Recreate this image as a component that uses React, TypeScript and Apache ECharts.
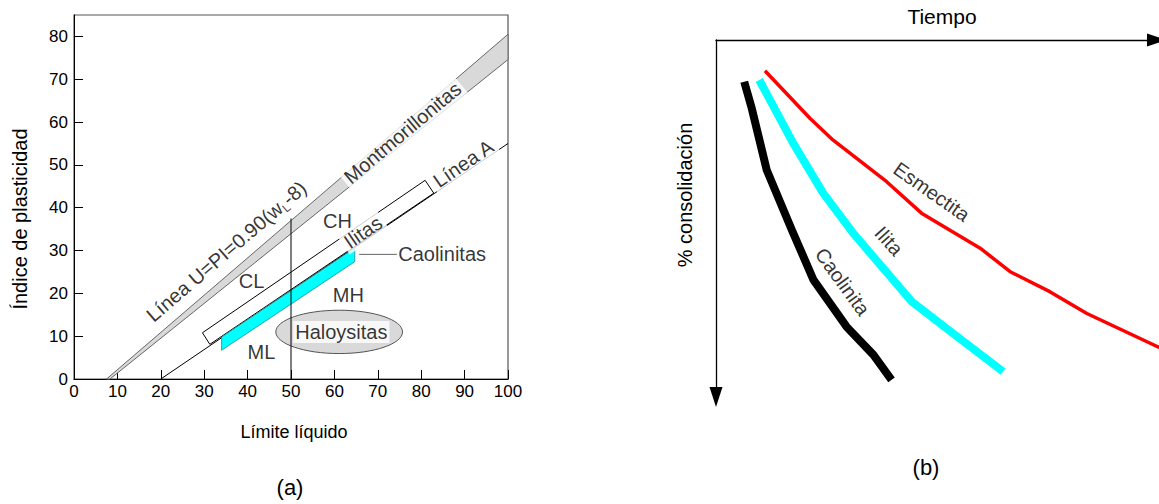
import React, { useEffect, useRef } from 'react';
import * as echarts from 'echarts';

const FONT = '"Liberation Sans", Arial, sans-serif';

// ---------- (a) Carta de plasticidad ----------
const lineA = [[20, 0], [100, 55]];
const lineUBand = [[7.5, 0], [100, 80.5], [100, 74.6], [8.3, 0]];
const ilitasBand = [[29.6, 10.8], [31.3, 8.1], [82.9, 43.4], [80.9, 46.4]];
const caolinitasBand = [[34, 6.7], [34, 9.8], [64.7, 30.6], [64.7, 27.4]];
const caolinitasLeader = [[65.7, 29.1], [74.4, 29.1]];
const liquidLimit50 = [[50, 0], [50, 37.5]];
// centre (LL, PI) and half-axes (LL, PI)
const haloysitasEllipse = [61.1, 11.0, 14.6, 5.06];

const zoneNames = ['CL', 'CH', 'ML', 'MH'];
const zoneLL = [40.9, 60.7, 43.2, 63.2];
const zonePI = [22.9, 36.9, 6.3, 19.7];

const lineLabels = ['{t|Línea U=PI=0.90(w}{s|L}{t|-8)}', 'Montmorillonitas', 'Ilitas', 'Línea A'];
const lineLabelLL = [35.1, 75.7, 66.6, 89.7];
const lineLabelPI = [29.8, 57.5, 34.3, 50.3];
const lineLabelAngle = [40.6, 40.0, 34.4, 34.3];

// ---------- (b) Consolidación ----------
const caolinita = [[6.4, 11.7], [8.1, 19.1], [11.5, 36.4], [17.2, 53.2], [22.1, 67.2], [29.6, 80.3], [35.7, 88.2], [39.8, 95.2]];
const ilita = [[9.8, 11.2], [17.5, 28.9], [24.3, 42.9], [31.1, 54.1], [44.4, 73.3], [52.7, 81.2], [65.1, 92.9]];
const esmectita = [[11.1, 8.6], [21.3, 21.9], [26.5, 28.0], [38.7, 39.7], [46.6, 48.5], [59.9, 58.3], [66.7, 64.9], [75.7, 70.5], [84.1, 76.6], [101.0, 86.4]];

const curveNames = ['Caolinita', 'Ilita', 'Esmectita'];
const curveLabelX = [28.7, 39.2, 48.9];
const curveLabelY = [67.7, 56.3, 42.5];
const curveLabelAngle = [-54, -48, -35];

function polygonSeries(verts: number[][], fill: string, stroke: string, lineWidth: number, z: number) {
  return {
    type: 'custom',
    xAxisIndex: 0,
    yAxisIndex: 0,
    silent: true,
    z,
    data: verts,
    renderItem: (params: any, api: any) => {
      if (params.dataIndex !== 0) return null;
      return {
        type: 'polygon',
        shape: { points: verts.map((v) => api.coord(v)) },
        style: { fill, stroke, lineWidth },
      };
    },
  };
}

export default function App() {
  const ref = useRef<HTMLDivElement>(null);

  useEffect(() => {
    if (!ref.current) return;
    const chart = echarts.init(ref.current, undefined, { renderer: 'svg' });

    const labelBase = { show: true, color: '#000', fontFamily: FONT, fontSize: 20 };

    const option: any = {
      animation: false,
      backgroundColor: '#fff',
      textStyle: { fontFamily: FONT },
      grid: [
        { left: 74, top: 15, width: 434, height: 364, show: true, borderColor: '#555', borderWidth: 1.2 },
        { left: 716, top: 40, width: 441, height: 357, show: false },
      ],
      xAxis: [
        {
          gridIndex: 0, type: 'value', min: 0, max: 100, interval: 10,
          axisLine: { show: true, onZero: false, lineStyle: { color: '#000', width: 1 } },
          axisTick: { show: true, inside: true, length: 9, lineStyle: { color: '#000' } },
          axisLabel: { color: '#000', fontSize: 17, margin: 4, fontFamily: FONT },
          splitLine: { show: false },
        },
        {
          gridIndex: 1, type: 'value', min: 0, max: 100, position: 'top',
          axisLine: { show: true, onZero: false, symbol: ['none', 'triangle'], symbolSize: [13, 20], lineStyle: { color: '#000', width: 1.3 } },
          axisTick: { show: false }, axisLabel: { show: false }, splitLine: { show: false },
        },
      ],
      yAxis: [
        {
          gridIndex: 0, type: 'value', min: 0, max: 85, interval: 10,
          axisLine: { show: true, onZero: false, lineStyle: { color: '#000', width: 1 } },
          axisTick: { show: true, inside: true, length: 9, lineStyle: { color: '#000' } },
          axisLabel: { color: '#000', fontSize: 17, margin: 6, fontFamily: FONT, showMaxLabel: false },
          splitLine: { show: false },
        },
        {
          gridIndex: 1, type: 'value', min: 0, max: 100, inverse: true,
          axisLine: { show: true, onZero: false, symbol: ['triangle', 'none'], symbolSize: [13, 20], lineStyle: { color: '#000', width: 1.3 } },
          axisTick: { show: false }, axisLabel: { show: false }, splitLine: { show: false },
        },
      ],
      series: [
        polygonSeries(lineUBand, '#d9d9d9', '#666', 1, 1),
        polygonSeries(ilitasBand, '#ffffff', '#000', 1, 2),
        polygonSeries(caolinitasBand, '#00ffff', '#2a8a8a', 0.8, 3),
        {
          type: 'line', xAxisIndex: 0, yAxisIndex: 0, data: lineA, showSymbol: false, silent: true, z: 2,
          lineStyle: { color: '#000', width: 1 },
        },
        {
          type: 'custom', xAxisIndex: 0, yAxisIndex: 0, silent: true, z: 4,
          data: [haloysitasEllipse],
          renderItem: (params: any, api: any) => {
            const c = api.coord([api.value(0), api.value(1)]);
            const s = api.size([api.value(2), api.value(3)]);
            return {
              type: 'ellipse',
              shape: { cx: c[0], cy: c[1], rx: s[0], ry: s[1] },
              style: { fill: '#d9d9d9', stroke: '#555', lineWidth: 1 },
            };
          },
        },
        {
          type: 'line', xAxisIndex: 0, yAxisIndex: 0, data: liquidLimit50, showSymbol: false, silent: true, z: 5,
          lineStyle: { color: '#000', width: 1 },
        },
        {
          type: 'line', xAxisIndex: 0, yAxisIndex: 0, data: caolinitasLeader, showSymbol: false, silent: true, z: 5,
          lineStyle: { color: '#666', width: 1 },
        },
        {
          type: 'scatter', xAxisIndex: 0, yAxisIndex: 0, symbolSize: 0, silent: true, z: 10,
          data: zoneNames.map((n, i) => ({
            value: [zoneLL[i], zonePI[i]],
            label: { ...labelBase, position: 'inside', formatter: n },
          })),
        },
        {
          type: 'scatter', xAxisIndex: 0, yAxisIndex: 0, symbolSize: 0, silent: true, z: 10,
          data: lineLabels.map((n, i) => ({
            value: [lineLabelLL[i], lineLabelPI[i]],
            label: {
              ...labelBase,
              position: 'inside',
              formatter: n,
              rotate: lineLabelAngle[i],
              backgroundColor: i === 0 ? 'transparent' : '#fff',
              padding: i === 0 ? 0 : [0, 3],
              lineHeight: 22,
              rich: {
                t: { fontSize: 20, fontFamily: FONT, color: '#000', lineHeight: 24 },
                s: { fontSize: 12, fontFamily: FONT, color: '#000', lineHeight: 24, verticalAlign: 'bottom' },
              },
            },
          })),
        },
        {
          type: 'scatter', xAxisIndex: 0, yAxisIndex: 0, symbolSize: 0, silent: true, z: 10,
          data: [
            { value: [caolinitasLeader[1][0] + 0.3, caolinitasLeader[1][1]], label: { ...labelBase, position: 'right', distance: 0, formatter: 'Caolinitas' } },
            { value: [haloysitasEllipse[0] + 0.5, haloysitasEllipse[1]], label: { ...labelBase, position: 'inside', formatter: 'Haloysitas', backgroundColor: '#fff', padding: [1, 2] } },
          ],
        },
        // (b)
        {
          type: 'line', name: 'Caolinita', xAxisIndex: 1, yAxisIndex: 1, data: caolinita, showSymbol: false, silent: true, clip: false,
          lineStyle: { color: '#000', width: 8, cap: 'butt', join: 'round' },
        },
        {
          type: 'line', name: 'Ilita', xAxisIndex: 1, yAxisIndex: 1, data: ilita, showSymbol: false, silent: true, clip: false,
          lineStyle: { color: '#00ffff', width: 8, cap: 'butt', join: 'round' },
        },
        {
          type: 'line', name: 'Esmectita', xAxisIndex: 1, yAxisIndex: 1, data: esmectita, showSymbol: false, silent: true, clip: false,
          lineStyle: { color: '#ff0000', width: 3.5, cap: 'butt', join: 'round' },
        },
        {
          type: 'scatter', xAxisIndex: 1, yAxisIndex: 1, symbolSize: 0, silent: true, z: 10,
          data: curveNames.map((n, i) => ({
            value: [curveLabelX[i], curveLabelY[i]],
            label: { ...labelBase, position: 'inside', formatter: n, rotate: curveLabelAngle[i] },
          })),
        },
      ],
      graphic: [
        { type: 'text', x: 20, y: 219, rotation: Math.PI / 2, style: { text: 'Índice de plasticidad', fontSize: 20, fontFamily: FONT, fill: '#000', align: 'center', verticalAlign: 'middle' } },
        { type: 'text', x: 294, y: 432, style: { text: 'Límite líquido', fontSize: 18, fontFamily: FONT, fill: '#000', align: 'center', verticalAlign: 'middle' } },
        { type: 'text', x: 290, y: 487, style: { text: '(a)', fontSize: 22, fontFamily: FONT, fill: '#000', align: 'center', verticalAlign: 'middle' } },
        { type: 'text', x: 942, y: 16, style: { text: 'Tiempo', fontSize: 21, fontFamily: FONT, fill: '#000', align: 'center', verticalAlign: 'middle' } },
        { type: 'text', x: 685, y: 195, rotation: Math.PI / 2, style: { text: '% consolidación', fontSize: 20, fontFamily: FONT, fill: '#000', align: 'center', verticalAlign: 'middle' } },
        { type: 'text', x: 926, y: 467, style: { text: '(b)', fontSize: 22, fontFamily: FONT, fill: '#000', align: 'center', verticalAlign: 'middle' } },
      ],
    };

    chart.setOption(option);
    return () => chart.dispose();
  }, []);

  return <div ref={ref} style={{ position: 'absolute', left: 0, top: 0, width: 1159, height: 504 }} />;
}
